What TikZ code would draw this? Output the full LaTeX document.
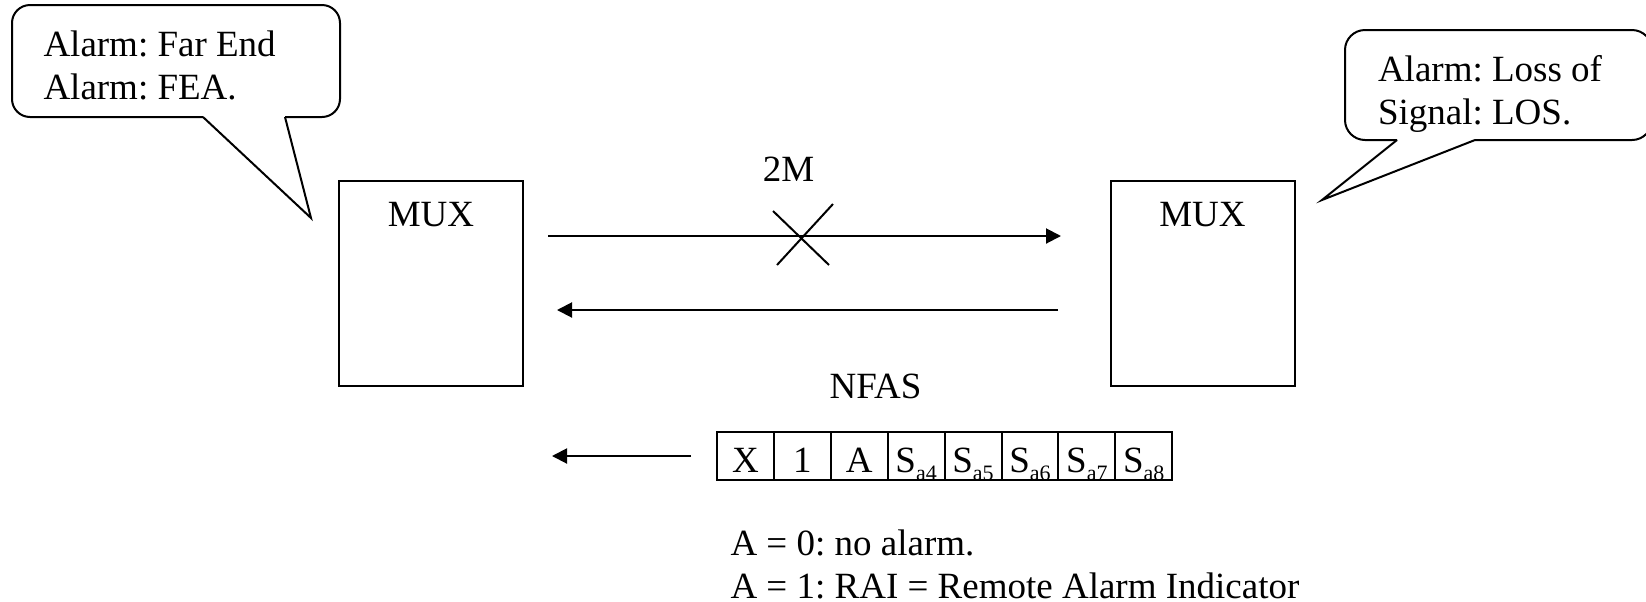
\documentclass[tikz,border=0pt]{standalone}
\usepackage{fontspec}
\setmainfont{Liberation Serif}
\usetikzlibrary{arrows.meta,positioning}

\newcommand{\sbit}[1]{S\raisebox{-4pt}{\fontsize{11pt}{11pt}\selectfont a#1}}

\begin{document}
\frenchspacing
\begin{tikzpicture}[x=0.5pt, y=-0.5pt, line width=1pt,
    txt/.style={inner sep=0pt, font=\fontsize{18.5pt}{21.5pt}\selectfont},
    note/.style={txt, align=left, anchor=north west},
    muxbox/.style={draw, minimum width=92pt, minimum height=102.5pt, inner sep=0pt},
    cell/.style={txt, draw, minimum width=28.45pt, minimum height=24pt, text height=16pt, text depth=0pt},
    link/.style={-{Triangle[length=7.5pt, width=7.5pt]}}]
  \path[use as bounding box, clip] (0,0) rectangle (1646,601);

  \draw[rounded corners=9pt] (285,117) -- (340,117) -- (340,5) -- (12,5) -- (12,117) -- (203,117);
  \draw (203,117) -- (311,218) -- (285,117);
  \node[note] (fea) at (42.5,29.7) {Alarm: Far End\\Alarm: FEA.};

  \draw[rounded corners=10pt] (1475,140) -- (1652,140) -- (1652,30) -- (1345,30) -- (1345,140) -- (1397,140);
  \draw (1397,140) -- (1322,200) -- (1475,140);
  \node[note] (los) at (1377,54.5) {Alarm: Loss of\\Signal: LOS.};

  \node[muxbox] (muxL) at (431,283.5) {};
  \node[txt, below=10.75pt of muxL.north] (muxLname) {MUX};
  \node[muxbox] (muxR) at (1202.5,283.5) {};
  \node[txt, below=10.75pt of muxR.north] (muxRname) {MUX};

  \coordinate (txA) at (548,236);
  \coordinate (txB) at (1061,236);
  \draw[link] (txA) -- (txB);
  \draw (773,211) -- (829,265) (833,204) -- (777,265);
  \node[txt, anchor=base] (rate) at (788.5,181) {2M};

  \coordinate (rxA) at (1058,310);
  \coordinate (rxB) at (557,310);
  \draw[link] (rxA) -- (rxB);

  \node[txt, anchor=base] (nfas) at (875.5,398) {NFAS};
  \foreach \t [count=\i] in {X, 1, A, \sbit{4}, \sbit{5}, \sbit{6}, \sbit{7}, \sbit{8}}
    \node[cell] (bit\i) at ({688.55+56.9*\i},456) {\t};
  \coordinate (outB) at (552,456);
  \draw[link, shorten <=12.5pt] (bit1.west) -- (outB);

  \node[note] (key) at (729.5,529) {A = 0: no alarm.\\A = 1: RAI = Remote Alarm Indicator};
\end{tikzpicture}
\end{document}
